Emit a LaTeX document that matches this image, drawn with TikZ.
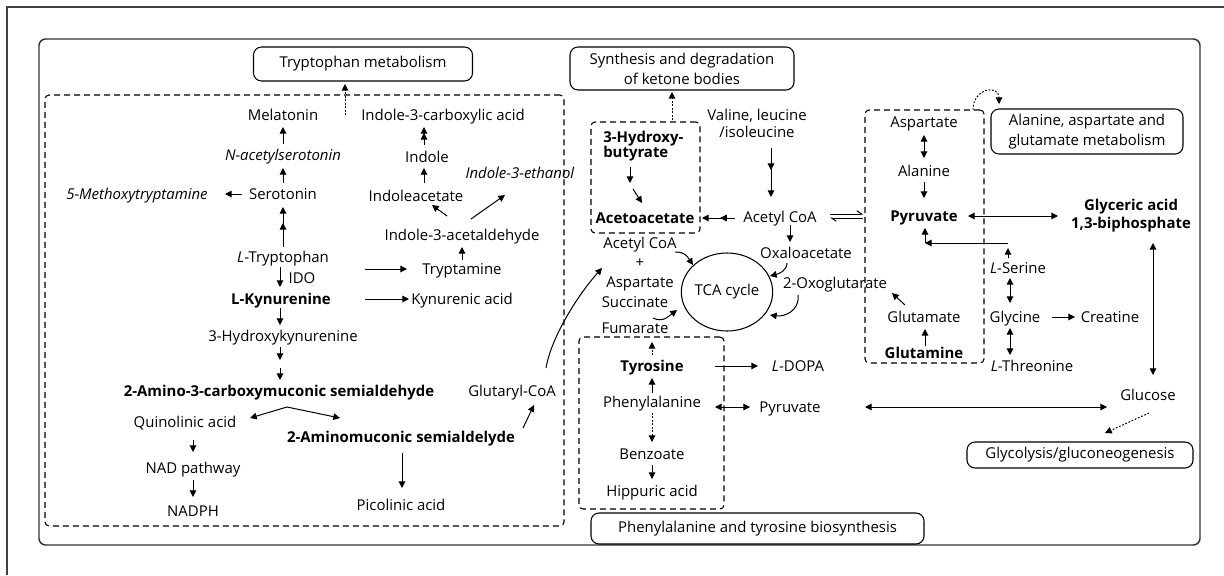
\documentclass[tikz,border=0pt]{standalone}
\usepackage{fontspec}
\setmainfont{Open Sans}
\usetikzlibrary{arrows.meta,calc,decorations.markings,shapes.geometric}

\tikzset{
  every node/.style={font=\fontsize{11.2}{13.5}\selectfont},
  tx/.style={text height=0.72em, text depth=0pt, inner sep=0pt},
  ml/.style={align=center, inner sep=0pt},
  pbox/.style={draw, rounded corners=6pt, line width=0.8pt, align=center, inner sep=0pt,
    font=\fontsize{11.2}{15}\selectfont},
  reg/.style={draw, dash pattern=on 4.5pt off 3pt, rounded corners=3pt, line width=0.8pt, inner sep=0pt},
  tip/.tip={Triangle[length=5pt,width=5pt]},
  ar/.style={line width=0.75pt, -tip},
  dar/.style={line width=0.75pt, tip-tip},
  dotar/.style={ar, dash pattern=on 1.3pt off 1.3pt},
  twohead/.style={ar, postaction={decorate},
    decoration={markings, mark=at position #1 with {\arrow{tip}}}},
  harp/.style={line width=0.75pt, -{Straight Barb[left,length=3.5pt,width=5pt]}}
}

\begin{document}
\begin{tikzpicture}[x=0.75pt,y=-0.75pt]
\useasboundingbox (0,0) rectangle (1224,575);

% frames
\draw[line width=1.3pt, black!75] (7,575) -- (7,7) -- (1224,7);
\draw[line width=1.1pt, black!80, rounded corners=5pt] (39,39) rectangle (1200,545);

% pathway group regions
\node[reg, minimum width=389.25pt, minimum height=323.25pt] (trpreg) at (304.5,310.5) {};
\node[reg, minimum width=81.75pt, minimum height=83.25pt] (ketreg) at (645.5,177.5) {};
\node[reg, minimum width=108.75pt, minimum height=129pt] (phereg) at (651.5,423) {};
\node[reg, minimum width=89.25pt, minimum height=189.75pt] (alareg) at (924.5,236.5) {};

% pathway labels
\node[pbox, minimum width=164.25pt, minimum height=25.5pt] (trpbox) at (363,64) {Tryptophan metabolism};
\node[pbox, minimum width=168pt, minimum height=32.25pt] (ketbox) at (682,68.5) {Synthesis and degradation\\of ketone bodies};
\node[pbox, minimum width=144pt, minimum height=33.75pt] (aagmbox) at (1087,131.5) {Alanine, aspartate and\\glutamate metabolism};
\node[pbox, minimum width=169.5pt, minimum height=19.5pt] (glycbox) at (1080,455) {Glycolysis/gluconeogenesis};
\node[pbox, minimum width=249.75pt, minimum height=23.25pt] (phebox) at (757.5,528.5) {Phenylalanine and tyrosine biosynthesis};

% tryptophan metabolites
\node[tx] (mel) at (283,116) {Melatonin};
\node[tx] (nas) at (283,156) {\textit{N-acetylserotonin}};
\node[tx] (ser) at (283,195) {Serotonin};
\node[tx] (mxt) at (137,195) {\textit{5-Methoxytryptamine}};
\node[tx] (trp) at (283,258) {\textit{L}-Tryptophan};
\node[tx] (ido) at (302,279) {IDO};
\node[tx] (kyn) at (281,300) {\textbf{L-Kynurenine}};
\node[tx] (hk) at (283,337) {3-Hydroxykynurenine};
\node[tx] (acms) at (279,392) {\textbf{2-Amino-3-carboxymuconic semialdehyde}};
\node[tx] (quin) at (185,423) {Quinolinic acid};
\node[tx] (nad) at (193,469) {NAD pathway};
\node[tx] (nadph) at (193,512) {NADPH};
\node[tx] (ams) at (401,438) {\textbf{2-Aminomuconic semialdelyde}};
\node[tx] (pic) at (401,506) {Picolinic acid};
\node[tx] (glut) at (512,392) {Glutaryl-CoA};
\node[tx] (i3ca) at (443,116) {Indole-3-carboxylic acid};
\node[tx] (indole) at (427,158) {Indole};
\node[tx] (i3e) at (520,174) {\textit{Indole-3-ethanol}};
\node[tx] (iaa) at (416,197) {Indoleacetate};
\node[tx] (i3ald) at (462,236) {Indole-3-acetaldehyde};
\node[tx] (tryptamine) at (462,270) {Tryptamine};
\node[tx] (kyna) at (462,300) {Kynurenic acid};

% ketone bodies and TCA cycle
\node[ml, align=left, anchor=west, font=\fontsize{11.2}{11.8}\selectfont] (hb) at (603,146) {\textbf{3-Hydroxy-}\\\textbf{butyrate}};
\node[tx] (aca) at (645,219) {\textbf{Acetoacetate}};
\node[tx] (acoa) at (780,218) {Acetyl CoA};
\node[ml, font=\fontsize{11.2}{12.8}\selectfont] (val) at (757,123) {Valine, leucine\\/isoleucine};
\node[tx] (acoa2) at (640,244) {Acetyl CoA};
\node[tx] (plus) at (640,263) {+};
\node[tx] (asp2) at (640,283) {Aspartate};
\node[tx] (succ) at (635,303) {Succinate};
\node[tx] (fum) at (635,329) {Fumarate};
\node[draw, ellipse, line width=0.8pt, minimum width=67.5pt, minimum height=58.5pt, inner sep=0pt] (tca) at (727,292) {TCA cycle};
\node[tx] (oxa) at (806,254) {Oxaloacetate};
\node[tx] (oxo) at (835,284) {2-Oxoglutarate};

% phenylalanine and tyrosine
\node[tx] (tyr) at (652,367) {\textbf{Tyrosine}};
\node[tx] (ldopa) at (798,367) {\textit{L}-DOPA};
\node[tx] (phe) at (652,403) {Phenylalanine};
\node[tx] (pyr2) at (790,408) {Pyruvate};
\node[tx] (glc) at (1148,396) {Glucose};
\node[tx] (benz) at (652,455) {Benzoate};
\node[tx] (hip) at (652,492) {Hippuric acid};

% amino acids
\node[tx] (aspa) at (924,123) {Aspartate};
\node[tx] (ala) at (924,172) {Alanine};
\node[tx] (pyr) at (924,217) {\textbf{Pyruvate}};
\node[ml] (gly13) at (1131,216) {\textbf{Glyceric acid}\\\textbf{1,3-biphosphate}};
\node[tx] (ser2) at (1018,269) {\textit{L}-Serine};
\node[tx] (glyc) at (1015,318) {Glycine};
\node[tx] (crea) at (1110,318) {Creatine};
\node[tx] (thr) at (1032,367) {\textit{L}-Threonine};
\node[tx] (glu) at (924,318) {Glutamate};
\node[tx] (gln) at (924,354) {\textbf{Glutamine}};

% ---- tryptophan connectors
\draw[dotar] ($(trpreg)+(40.5,-195.5)$) -- ($(trpbox)+(-18,20)$);
\draw[ar] ($(nas)+(0,-12)$) -- ($(mel)+(0,11)$);
\draw[ar] ($(ser)+(0,-12)$) -- ($(nas)+(0,12)$);
\draw[ar] ($(ser)+(-41,-1)$) -- ($(mxt)+(88,-1)$);
\draw[twohead=0.6] ($(trp)+(0,-11)$) -- ($(ser)+(0,12)$);
\draw[ar] ($(trp)+(-3,9)$) -- ($(kyn)+(-1,-13)$);
\draw[ar] ($(kyn)+(-1,8)$) -- ($(hk)+(-3,-12)$);
\coordinate (hkm1) at (280,360);
\coordinate (hkm2) at (280,368);
\draw[ar] ($(hk)+(-3,10)$) -- (hkm1);
\draw[ar] (hkm2) -- ($(acms)+(1,-12)$);
\coordinate (fork) at (287,407);
\draw[dar] ($(quin)+(65,-5)$) -- (fork) -- ($(ams)+(-61,-20)$);
\draw[ar] ($(quin)+(8,17)$) -- ($(nad)+(0,-17)$);
\draw[ar] ($(nad)+(0,11)$) -- ($(nadph)+(0,-15)$);
\draw[ar] ($(ams)+(1,15)$) -- ($(pic)+(1,-18)$);
\draw[ar] ($(ams)+(122,-10)$) -- ($(glut)+(22,13)$);
\draw[ar] ($(glut)+(34,-24)$) .. controls +(5,-30) and +(-25,28) .. ($(plus)+(-38,5)$);
\draw[twohead=0.67] ($(indole)+(-3,-13)$) -- ($(i3ca)+(-19,11)$);
\draw[ar] ($(iaa)+(8,-14)$) -- ($(indole)+(-3,10)$);
\draw[ar] ($(i3ald)+(-15,-20)$) -- ($(iaa)+(16,8)$);
\draw[ar] ($(i3ald)+(9,-17)$) -- ($(i3e)+(-15,21)$);
\draw[ar] ($(tryptamine)+(0,-10)$) -- ($(i3ald)+(0,11)$);
\draw[ar] ($(trp)+(82,11)$) -- ($(tryptamine)+(-55,-1)$);
\draw[ar] ($(kyn)+(84,-1)$) -- ($(kyna)+(-53,-1)$);

% ---- ketone bodies and TCA connectors
\draw[dotar] ($(ketreg)+(26.5,-57.5)$) -- ($(ketbox)+(-10,23.5)$);
\coordinate (hbm1) at (630,183);
\coordinate (hbm2) at (633,189);
\draw[ar] ($(hb.west)+(27,21)$) -- (hbm1);
\draw[ar] (hbm2) -- ($(aca)+(-3,-16)$);
\draw[twohead=0.45] ($(acoa)+(-45,0)$) -- ($(aca)+(57,-1)$);
\draw[twohead=0.45] ($(val)+(14,25)$) -- ($(acoa)+(-9,-21)$);
\draw[harp] ($(acoa)+(50,-4)$) -- ($(pyr)+(-61,-3)$);
\draw[harp] ($(pyr)+(-61,1)$) -- ($(acoa)+(50,0)$);
\draw[ar] ($(acoa)+(10,7)$) -- ($(oxa)+(-16,-12)$);
\draw[ar] ($(acoa2)+(35,8)$) .. controls +(10,0) and +(-6,-9) .. ($(tca)+(-34,-27)$);
\draw[ar] ($(fum)+(18,-11)$) .. controls +(10,5) and +(-8,6) .. ($(tca)+(-50,18)$);
\draw[ar] ($(oxa)+(-19,9)$) .. controls +(0,8) and +(8,-2) .. ($(tca)+(43,-16)$);
\draw[ar] ($(oxo)+(-37,11)$) .. controls +(2,16) and +(14,2) .. ($(tca)+(43,23)$);

% ---- phenylalanine and tyrosine connectors
\draw[dotar] ($(tyr)+(0,-12)$) -- ($(fum)+(17,13)$);
\draw[ar] ($(tyr)+(63,-1)$) -- ($(ldopa)+(-40,-1)$);
\draw[ar] ($(phe)+(0,-10)$) -- ($(tyr)+(0,11)$);
\draw[dar] ($(phe)+(63,4)$) -- ($(pyr2)+(-40,-1)$);
\draw[dar] ($(pyr2)+(75,-1)$) -- ($(glc)+(-41,11)$);
\draw[dotar] ($(glc)+(1,17)$) -- ($(glycbox)+(25,-22)$);
\draw[dotar] ($(phe)+(0,10)$) -- ($(benz)+(0,-13)$);
\draw[ar] ($(benz)+(0,10)$) -- ($(hip)+(0,-13)$);

% ---- amino acid connectors
\draw[dotar] ($(alareg)+(48.5,-126.5)$) .. controls +(0,-22) and +(0,-20) .. ($(aagmbox)+(-88,-27.5)$);
\draw[dar] ($(aspa)+(0,12)$) -- ($(ala)+(0,-14)$);
\draw[ar] ($(ala)+(0,10)$) -- ($(pyr)+(0,-19)$);
\draw[dar] ($(pyr)+(44,-1)$) -- ($(gly13)+(-73,0)$);
\draw[dar] ($(gly13)+(22,27)$) -- ($(glc)+(5,-21)$);
\draw[ar] ($(ser2)+(-10,-11)$) -- ($(ser2)+(-10,-21)$);
\coordinate (serturn) at (925,243);
\draw[ar] ($(ser2)+(-10,-26)$) -- (serturn);
\draw[ar] (serturn) -- ($(pyr)+(1,11)$);
\draw[dar] ($(ser2)+(-8,9)$) -- ($(glyc)+(-5,-15)$);
\draw[ar] ($(glyc)+(37,-1)$) -- ($(crea)+(-35,-1)$);
\draw[dar] ($(glyc)+(-5,10)$) -- ($(thr)+(-22,-12)$);
\draw[ar] ($(glu)+(-19,-13)$) -- ($(oxo)+(57,9)$);
\draw[ar] ($(gln)+(1,-8)$) -- ($(glu)+(1,11)$);
\end{tikzpicture}
\end{document}
